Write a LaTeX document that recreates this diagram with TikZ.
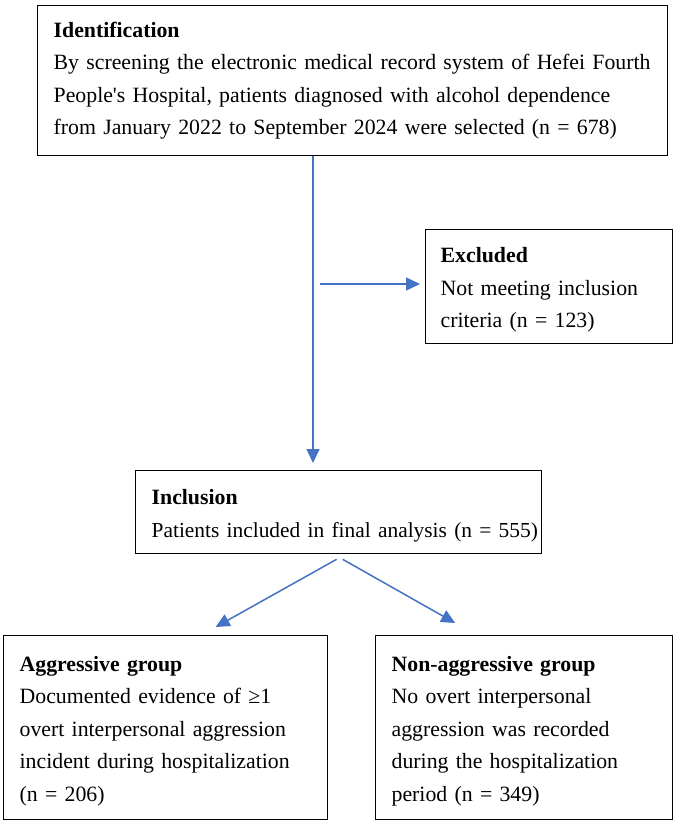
\documentclass[tikz,border=0pt]{standalone}
\usepackage{fontspec}
\setmainfont{Liberation Serif}
\usetikzlibrary{arrows.meta}

\definecolor{flowblue}{HTML}{4472C4}

\begin{document}
\begin{tikzpicture}[
x=1pt, y=-1pt,
box/.style={
draw=black,
line width=1.3pt,
anchor=north west,
align=left,
inner xsep=16pt,
inner ysep=0pt,
font=\fontsize{21.8}{32.5}\selectfont
},
lowbox/.style={
box,
text height=22pt
},
flow/.style={
draw=flowblue,
line width=1.5pt,
-{Triangle[length=14pt,width=13pt]}
}
]

\useasboundingbox (0,0) rectangle (675,825);

% Identification
\node[box, text width=598pt, minimum height=150pt] (ident) at (37,5)
{\textbf{Identification}\\
\mbox{By screening the electronic medical record system of Hefei Fourth}\\
People\textquotesingle s Hospital, patients diagnosed with alcohol dependence\\
from January 2022 to September 2024 were selected (n = 678)};

% Excluded
\node[lowbox, inner xsep=15pt, text width=217pt, minimum height=114pt] (excl) at (425,229)
{\textbf{Excluded}\\
Not meeting inclusion\\
criteria (n = 123)};

% Inclusion
\node[lowbox, text width=374pt, minimum height=83pt] (incl) at (135,470)
{\textbf{Inclusion}\\
\mbox{\fontsize{21.4}{32.5}\selectfont Patients included in final analysis (n = 555)}};

% Groups
\node[lowbox, text width=292pt, minimum height=184pt] (aggr) at (3,635)
{\textbf{Aggressive group}\\
Documented evidence of ≥1\\
overt interpersonal aggression\\
incident during hospitalization\\
(n = 206)};

\node[lowbox, text width=265pt, minimum height=184pt] (nonaggr) at (375,635)
{\textbf{Non-aggressive group}\\
No overt interpersonal\\
aggression was recorded\\
during the hospitalization\\
period (n = 349)};

% Connectors
\coordinate (trunk) at (313,0);
\coordinate (branch) at (320,284);

\draw[flow, shorten >=7pt] (ident.south -| trunk) -- (incl.north -| trunk);
\draw[flow, shorten >=5pt] (branch) -- (branch -| excl.west);
\draw[flow] ([xshift=-2pt,yshift=-5pt]incl.south) -- ([xshift=50pt,yshift=8pt]aggr.north);
\draw[flow] ([xshift=4pt,yshift=-5pt]incl.south) -- ([xshift=-69pt,yshift=12pt]nonaggr.north);

\end{tikzpicture}
\end{document}
